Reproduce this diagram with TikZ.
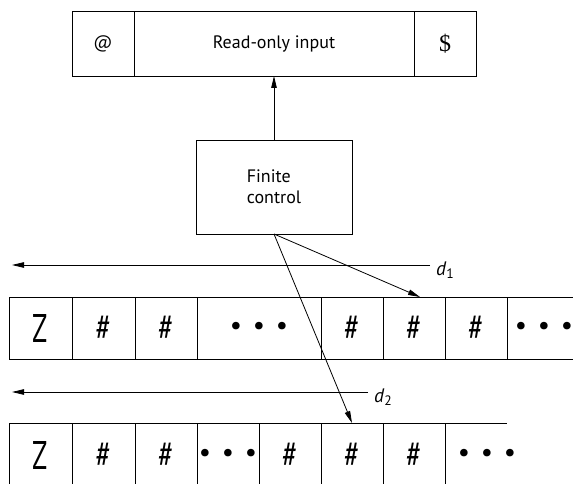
\documentclass[tikz,border=0pt]{standalone}
\usepackage{fontspec}
\usepackage{graphicx}
\setmainfont{PT Sans}
\newfontfamily\dollarfont{Liberation Serif}
\usetikzlibrary{arrows.meta,calc}
\newcommand{\narrow}[2]{\scalebox{#1}[1]{#2}}
\newcommand{\tapedots}{•\hspace{0.4em}•\hspace{0.4em}•}
\begin{document}
\begin{tikzpicture}[x=1pt,y=-1pt,
  every node/.style={inner sep=0pt,outer sep=0pt},
  line/.style={line width=0.8pt},
  arr/.style={line width=0.8pt,-{Triangle[length=12pt,width=5.5pt]}},
  cell/.style={draw,line width=0.8pt,anchor=north west,minimum height=62pt},
  label/.style={font=\fontsize{18}{21}\selectfont},
  sym/.style={font=\fontsize{38}{40}\selectfont},
  bigsym/.style={font=\fontsize{40}{44}\selectfont},
  dots/.style={font=\fontsize{27}{30}\selectfont}]
\clip (0,0) rectangle (573,484);
\fill[white] (0,0) rectangle (573,484);

% read-only input tape
\node[cell,minimum width=62pt,minimum height=65pt,label] (at) at (72,11) {@};
\node[cell,minimum width=280pt,minimum height=65pt,label] (ro) at (134,11) {Read-only input};
\node[cell,minimum width=62pt,minimum height=65pt,font=\dollarfont\fontsize{24}{26}\selectfont] (end) at (414,11) {\$};

% finite control
\node[cell,minimum width=156pt,minimum height=94pt,label,align=left] (fc) at (196,140) {Finite\\[0pt]control};
\draw[arr] (fc.north) -- (ro.south);

% first work tape (open to the right)
\node[cell,minimum width=63pt,bigsym] (a1) at (9,297) {\narrow{0.7}{Z}};
\node[cell,minimum width=63pt,sym] (a2) at (72,297) {\narrow{0.75}{\#}};
\node[cell,minimum width=62pt,sym] (a3) at (135,297) {\narrow{0.75}{\#}};
\node[cell,minimum width=124pt,dots] (a4) at (197,297) {\tapedots};
\node[cell,minimum width=62pt,sym] (a5) at (321,297) {\narrow{0.75}{\#}};
\node[cell,minimum width=62pt,sym] (a6) at (383,297) {\narrow{0.75}{\#}};
\node[cell,minimum width=62pt,sym] (a7) at (445,297) {\narrow{0.75}{\#}};
\node[anchor=north west,minimum width=74pt,minimum height=62pt,dots] (a8) at (507,297) {\tapedots};
\coordinate (a8top) at (573,297);
\coordinate (a8bot) at (573,359);
\draw[line] (a7.north east) -- (a8top);
\draw[line] (a7.south east) -- (a8bot);

% second work tape (open to the right)
\node[cell,minimum width=63pt,minimum height=64pt,bigsym] (b1) at (9,423) {\narrow{0.7}{Z}};
\node[cell,minimum width=63pt,minimum height=64pt,sym] (b2) at (72,423) {\narrow{0.75}{\#}};
\node[cell,minimum width=62pt,minimum height=64pt,sym] (b3) at (135,423) {\narrow{0.75}{\#}};
\node[cell,minimum width=62pt,minimum height=64pt,dots] (b4) at (197,423) {\tapedots};
\node[cell,minimum width=62pt,minimum height=64pt,sym] (b5) at (259,423) {\narrow{0.75}{\#}};
\node[cell,minimum width=62pt,minimum height=64pt,sym] (b6) at (321,423) {\narrow{0.75}{\#}};
\node[cell,minimum width=62pt,minimum height=64pt,sym] (b7) at (383,423) {\narrow{0.75}{\#}};
\node[anchor=north west,minimum width=84pt,minimum height=64pt,dots] (b8) at (445,423) {\tapedots};
\coordinate (b8top) at (507,423);
\draw[line] (b7.north east) -- (b8top);

% head movement directions
\node[font=\fontsize{19.5}{22}\selectfont,anchor=west] (d1) at (436,270) {\textit{d}\textsubscript{1}};
\coordinate (d1end) at (12,265);
\draw[arr] (d1.west |- d1end) ++(-6,0) -- (d1end);
\node[font=\fontsize{19.5}{22}\selectfont,anchor=west] (d2) at (374,397) {\textit{d}\textsubscript{2}};
\coordinate (d2end) at (12,392);
\draw[arr] (d2.west |- d2end) ++(-6,0) -- (d2end);

% heads
\coordinate (h1) at (420,297);
\draw[arr] (fc.south) -- (h1);
\draw[arr] (fc.south) -- (b6.north);
\end{tikzpicture}
\end{document}
